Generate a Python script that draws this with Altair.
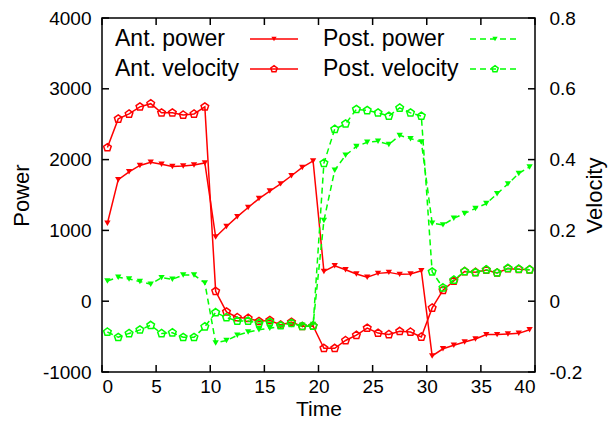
import altair as alt
import pandas as pd

# ---------------- data ----------------
time = [0.5, 1.5, 2.5, 3.5, 4.5, 5.5, 6.5, 7.5, 8.5, 9.5,
        10.5, 11.5, 12.5, 13.5, 14.5, 15.5, 16.5, 17.5, 18.5, 19.5,
        20.5, 21.5, 22.5, 23.5, 24.5, 25.5, 26.5, 27.5, 28.5, 29.5,
        30.5, 31.5, 32.5, 33.5, 34.5, 35.5, 36.5, 37.5, 38.5, 39.5]

ant_power = [1101, 1717, 1828, 1917, 1963, 1935, 1903, 1911, 1925, 1953,
             907, 1055, 1194, 1324, 1449, 1556, 1657, 1772, 1889, 1981,
             421, 500, 444, 384, 338, 393, 407, 379, 384, 430,
             -773, -672, -621, -575, -533, -472, -472, -463, -454, -403]

post_power = [286, 338, 314, 278, 240, 333, 310, 369, 369, 258,
              -589, -556, -482, -436, -403, -381, -357, -333, -340, -330,
              1139, 1851, 2060, 2185, 2245, 2259, 2213, 2342, 2296, 2250,
              1101, 1078, 1171, 1240, 1310, 1379, 1518, 1657, 1805, 1897]

ant_velocity = [0.434, 0.515, 0.529, 0.549, 0.558, 0.532, 0.532, 0.526, 0.529, 0.549,
                0.028, -0.030, -0.046, -0.048, -0.057, -0.054, -0.067, -0.059, -0.071, -0.070,
                -0.133, -0.133, -0.111, -0.096, -0.076, -0.090, -0.094, -0.085, -0.087, -0.101,
                -0.019, 0.031, 0.057, 0.084, 0.082, 0.088, 0.080, 0.092, 0.090, 0.089]

post_velocity = [-0.087, -0.102, -0.091, -0.081, -0.068, -0.091, -0.089, -0.102, -0.102, -0.072,
                 -0.032, -0.046, -0.056, -0.056, -0.062, -0.059, -0.069, -0.062, -0.071, -0.070,
                 0.390, 0.486, 0.501, 0.542, 0.539, 0.532, 0.523, 0.546, 0.532, 0.523,
                 0.083, 0.038, 0.060, 0.084, 0.081, 0.089, 0.080, 0.093, 0.091, 0.089]

series_names = ["Ant. power", "Ant. velocity", "Post. power", "Post. velocity"]
time_ticks = [0, 5, 10, 15, 20, 25, 30, 35, 40]
power_ticks = [-1000, 0, 1000, 2000, 3000, 4000]
velocity_ticks = [-0.2, 0, 0.2, 0.4, 0.6, 0.8]

# ---------------- style ----------------
W, H = 433, 354
PAD = {"left": 94, "top": 10, "right": 73, "bottom": 48}
RED = "#ff0000"
GREEN = "#00ff00"
FONT = "Liberation Sans"
PENTAGON = "M0,-1L0.951,-0.309L0.588,0.809L-0.588,0.809L-0.951,-0.309Z"
DASH = [6, 4]
TICK = 7

n = len(time)
power_df = pd.DataFrame({"t": time + time, "value": ant_power + post_power,
                         "series": [series_names[0]] * n + [series_names[2]] * n})
vel_df = pd.DataFrame({"t": time + time, "value": ant_velocity + post_velocity,
                       "series": [series_names[1]] * n + [series_names[3]] * n})

x_enc = alt.X("t:Q",
              scale=alt.Scale(domain=[0, 40], nice=False, zero=False),
              axis=alt.Axis(values=time_ticks, title="Time", orient="bottom",
                            labelPadding=5, titleX=W / 2, titleY=43, titleFontSize=21,
                            titleBaseline="alphabetic", titleAlign="center"))

y_power = alt.Y("value:Q",
                scale=alt.Scale(domain=[-1000, 4000], nice=False, zero=False),
                axis=alt.Axis(values=power_ticks, orient="left", title="Power",
                              labelExpr="toString(datum.value)", labelPadding=11,
                              titleAngle=270, titleX=-74, titleY=H / 2,
                              titleBaseline="alphabetic", titleAlign="center"))

y_vel = alt.Y("value:Q",
              scale=alt.Scale(domain=[-0.2, 0.8], nice=False, zero=False),
              axis=alt.Axis(values=velocity_ticks, orient="right", title="Velocity",
                            labelExpr="toString(datum.value)", labelPadding=14,
                            titleAngle=270, titleX=66, titleY=H / 2,
                            titleBaseline="alphabetic", titleAlign="center"))

style = {
    series_names[0]: dict(color=RED, dash=None, shape="triangle-down", filled=True, size=40),
    series_names[1]: dict(color=RED, dash=None, shape=PENTAGON, filled=False, size=64),
    series_names[2]: dict(color=GREEN, dash=DASH, shape="triangle-down", filled=True, size=40),
    series_names[3]: dict(color=GREEN, dash=DASH, shape=PENTAGON, filled=False, size=64),
}


def series_layers(df, name, yenc):
    s = style[name]
    base = alt.Chart(df).transform_filter(alt.datum.series == name)
    line_kw = dict(color=s["color"], strokeWidth=1.5)
    if s["dash"]:
        line_kw["strokeDash"] = s["dash"]
    line = base.mark_line(**line_kw).encode(x=x_enc, y=yenc)
    pts = base.mark_point(shape=s["shape"], filled=s["filled"], color=s["color"],
                          size=s["size"], strokeWidth=1.5, opacity=1).encode(x=x_enc, y=yenc)
    return [line, pts]


# frame ticks (inward, gnuplot style)
xt_df = pd.DataFrame({"t": time_ticks})
bottom_ticks = alt.Chart(xt_df).mark_rule(color="black", strokeWidth=1.5).encode(
    x=x_enc, y=alt.value(H), y2=alt.value(H - TICK))
top_ticks = alt.Chart(xt_df).mark_rule(color="black", strokeWidth=1.5).encode(
    x=x_enc, y=alt.value(0), y2=alt.value(TICK))
left_ticks = alt.Chart(pd.DataFrame({"value": power_ticks})).mark_rule(
    color="black", strokeWidth=1.5).encode(y=y_power, x=alt.value(0), x2=alt.value(TICK))
right_ticks = alt.Chart(pd.DataFrame({"value": velocity_ticks})).mark_rule(
    color="black", strokeWidth=1.5).encode(y=y_vel, x=alt.value(W - TICK), x2=alt.value(W))

# legend (gnuplot style: text, then line sample)
legend_df = pd.DataFrame({"label": series_names})
leg_text_x = [13, 221]
leg_line_x = [(148, 196), (368, 418)]
leg_row_y = [21, 51]
legend_layers = []
for i, name in enumerate(series_names):
    col, row = i // 2, i % 2
    s = style[name]
    ly = leg_row_y[row]
    b = alt.Chart(legend_df).transform_filter(alt.datum.label == name)
    legend_layers.append(
        b.mark_text(align="left", baseline="middle", font=FONT, fontSize=23, color="black")
        .encode(x=alt.value(leg_text_x[col]), y=alt.value(ly), text="label:N"))
    rk = dict(color=s["color"], strokeWidth=1.5)
    if s["dash"]:
        rk["strokeDash"] = s["dash"]
    x0, x1 = leg_line_x[col]
    legend_layers.append(
        b.mark_rule(**rk).encode(x=alt.value(x0), x2=alt.value(x1), y=alt.value(ly)))
    legend_layers.append(
        b.mark_point(shape=s["shape"], filled=s["filled"], color=s["color"],
                     size=s["size"] * 0.7, strokeWidth=1.5, opacity=1)
        .encode(x=alt.value((x0 + x1) / 2), y=alt.value(ly)))

power_group = alt.layer(
    *series_layers(power_df, series_names[0], y_power),
    *series_layers(power_df, series_names[2], y_power),
    left_ticks, bottom_ticks, top_ticks, *legend_layers)

vel_group = alt.layer(
    *series_layers(vel_df, series_names[1], y_vel),
    *series_layers(vel_df, series_names[3], y_vel),
    right_ticks)

chart = (
    alt.layer(power_group, vel_group)
    .resolve_scale(y="independent")
    .properties(width=W, height=H, padding=PAD,
                autosize=alt.AutoSizeParams(type="none"))
    .configure_view(stroke="black", strokeWidth=1.5)
    .configure_axis(domain=False, ticks=False, tickSize=0, grid=False,
                    labelFont=FONT, titleFont=FONT, labelFontSize=19, titleFontSize=22,
                    titleFontWeight="normal", labelColor="black", titleColor="black")
)

chart.save("out.html", embed_options={"renderer": "svg", "actions": False})
